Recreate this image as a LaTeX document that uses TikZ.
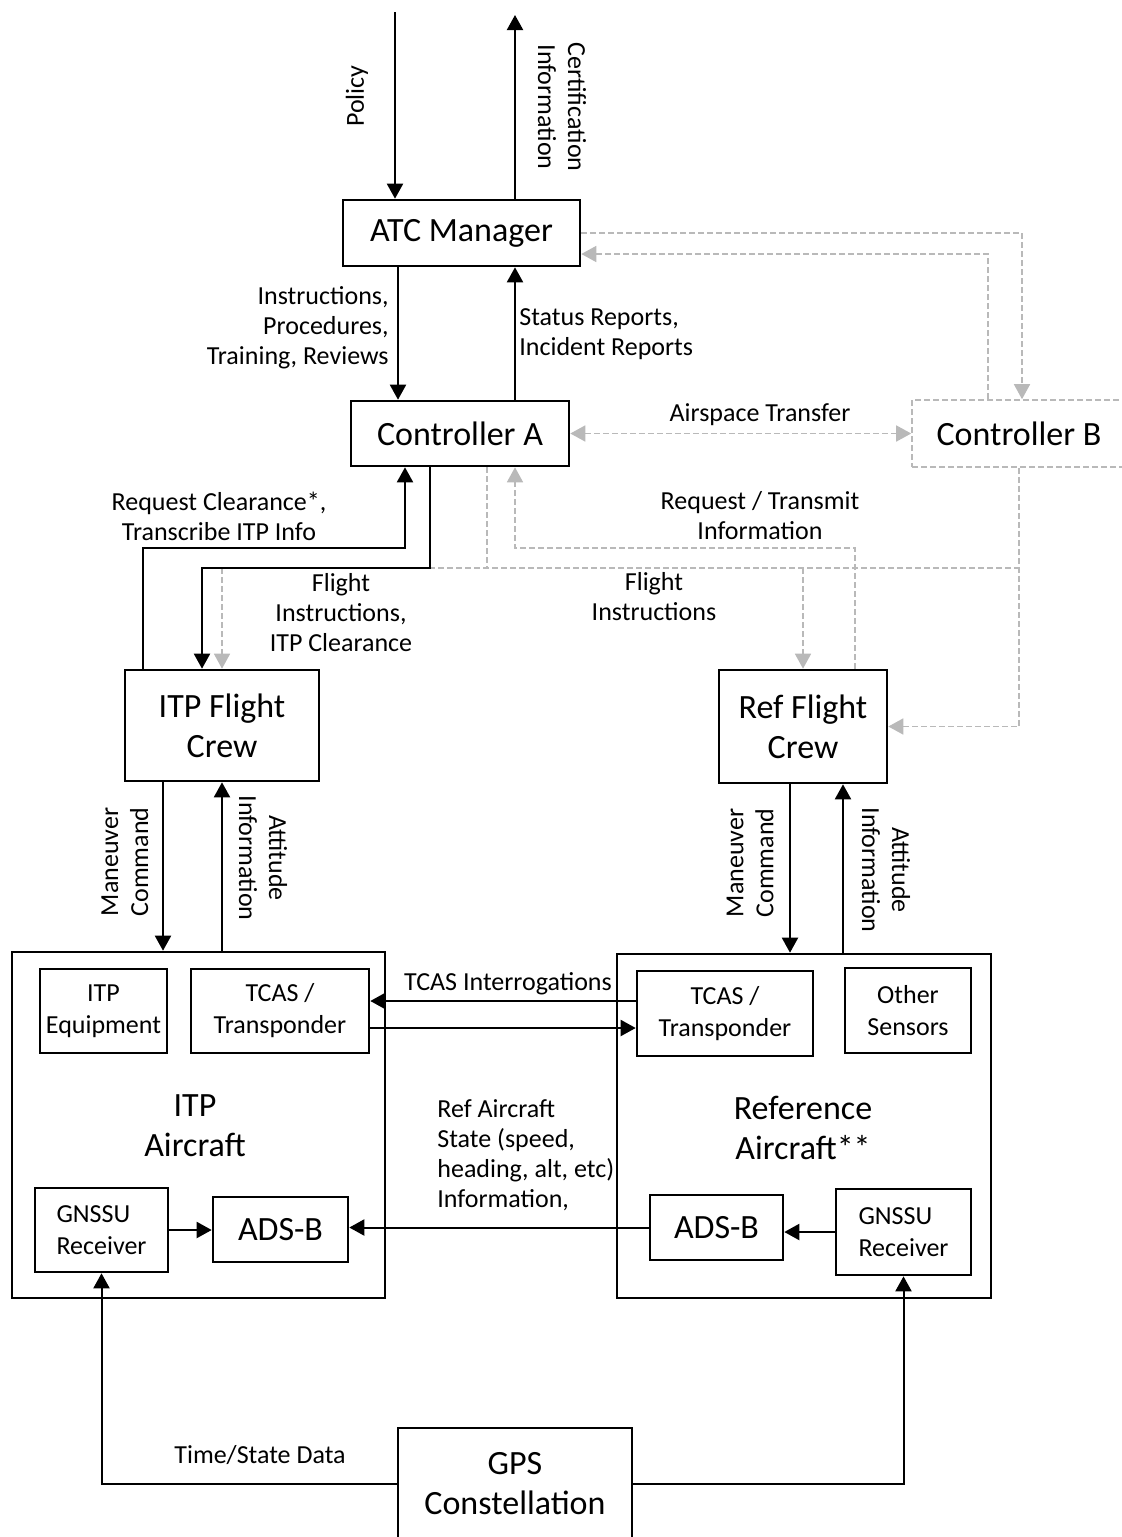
\documentclass[tikz,border=0pt]{standalone}
\usepackage{fontspec}
\setmainfont{Carlito}
\usetikzlibrary{arrows.meta,calc}
\newdimen\upx \upx=0.5pt
\definecolor{lgray}{RGB}{185,185,185}
\begin{document}
\begin{tikzpicture}[x=0.5pt,y=-0.5pt,
  box/.style={draw,line width=1.3pt,inner sep=0pt,align=center},
  big/.style={font=\fontsize{17}{20}\selectfont},
  small/.style={font=\fontsize{13}{16}\selectfont},
  lbl/.style={font=\fontsize{13}{15}\selectfont,inner sep=0pt,align=center},
  tip/.tip={Triangle[length=7.5pt,width=8pt]},
  arr/.style={line width=1pt,-tip},
  bline/.style={line width=1pt},
  gline/.style={draw=lgray,line width=0.8pt,dash pattern=on 3pt off 1.5pt},
  garr/.style={gline,-tip},
  garrs/.style={gline,tip-tip},
]
\useasboundingbox (0,0) rectangle (1122,1537);

% ---- boxes ----
\node[box,big,minimum width=237\upx,minimum height=66\upx] (atc) at (461.5,233) {ATC Manager};
\node[box,big,minimum width=218\upx,minimum height=65\upx] (ctrlA) at (460,433.5) {Controller A};
\node[box,big,draw=lgray,line width=0.8pt,dash pattern=on 3pt off 1.5pt,
      minimum width=214\upx,minimum height=67\upx] (ctrlB) at (1019,433.5) {Controller B};
\node[box,big,minimum width=194\upx,minimum height=111\upx] (itpcrew) at (222,725.5) {ITP Flight\\Crew};
\node[box,big,minimum width=168\upx,minimum height=113\upx] (refcrew) at (803,726.5) {Ref Flight\\Crew};

\node[box,minimum width=373\upx,minimum height=346\upx] (itpac) at (198.5,1125) {};
\node[big,align=center] (itptitle) at (195,1126) {ITP\\Aircraft};
\node[box,small,minimum width=127\upx,minimum height=84\upx] (itpeq) at (103.5,1011) {ITP\\Equipment};
\node[box,small,minimum width=178\upx,minimum height=84\upx] (tcasL) at (280,1011) {TCAS /\\Transponder};
\node[box,small,align=left,minimum width=133\upx,minimum height=84\upx] (gnssL) at (101.5,1230) {GNSSU\\Receiver};
\node[box,big,minimum width=135\upx,minimum height=65\upx] (adsL) at (280.5,1229.5) {ADS-B};

\node[box,minimum width=374\upx,minimum height=344\upx] (refac) at (804,1126) {};
\node[big,align=center] (reftitle) at (803,1128) {Reference\\Aircraft**};
\node[box,small,minimum width=176\upx,minimum height=85\upx] (tcasR) at (725,1013.5) {TCAS /\\Transponder};
\node[box,small,minimum width=126\upx,minimum height=85\upx] (other) at (908,1010.5) {Other\\Sensors};
\node[box,big,minimum width=133\upx,minimum height=65\upx] (adsR) at (716.5,1227.5) {ADS-B};
\node[box,small,align=left,minimum width=135\upx,minimum height=86\upx] (gnssR) at (903.5,1232) {GNSSU\\Receiver};

\node[box,big,minimum width=234\upx,minimum height=112\upx] (gps) at (515,1484) {GPS\\Constellation};

% ---- reference levels ----
\coordinate (policyin) at (395,12);
\coordinate (certout) at (515,15);
\coordinate (colA) at (398,0);
\coordinate (colB) at (515,0);
\coordinate (bus) at (0,568);
\coordinate (req) at (0,548);

% ---- grey (Controller B / shared) links ----
\draw[garr] (atc.east) -| ([xshift=3\upx]ctrlB.north);
\draw[garr] ([xshift=-31\upx]ctrlB.north) |- ([yshift=-21\upx]atc.east);
\draw[garrs] (ctrlA.east) -- (ctrlB.west);
\draw[gline] ([xshift=27\upx]ctrlA.south) -- ([xshift=27\upx]ctrlA.south |- bus);
\draw[gline] (itpcrew.north |- bus) -- (ctrlB.south |- bus);
\draw[garr] (itpcrew.north |- bus) -- (itpcrew.north);
\draw[garr] (refcrew.north |- bus) -- (refcrew.north);
\draw[garr] (ctrlB.south) |- (refcrew.east);
\draw[garr] ([xshift=52\upx]refcrew.north) |- (colB |- req) -- (colB |- ctrlA.south);

% ---- black links ----
\draw[arr] (policyin) -- (policyin |- atc.north);
\draw[arr] (certout |- atc.north) -- (certout);
\draw[arr] (colA |- atc.south) -- (colA |- ctrlA.north);
\draw[arr] (colB |- ctrlA.north) -- (colB |- atc.south);
\draw[arr] ([xshift=-30\upx]ctrlA.south) -- ([xshift=-30\upx]ctrlA.south |- bus)
  -| ([xshift=-20\upx]itpcrew.north);
\draw[arr] ([xshift=-79\upx]itpcrew.north) |- ([xshift=-55\upx]ctrlA.south |- req)
  -- ([xshift=-55\upx]ctrlA.south);

\draw[arr] ([xshift=-59\upx]itpcrew.south) -- ([xshift=-59\upx]itpcrew.south |- itpac.north);
\draw[arr] (itpcrew.south |- itpac.north) -- (itpcrew.south);
\draw[arr] ([xshift=-13\upx]refcrew.south) -- ([xshift=-13\upx]refcrew.south |- refac.north);
\draw[arr] ([xshift=40\upx]refcrew.south |- refac.north) -- ([xshift=40\upx]refcrew.south);

\coordinate (ti) at ([yshift=12.5\upx]tcasR.west);
\coordinate (tr) at ([yshift=-17\upx]tcasL.east);
\draw[arr] (ti) -- (ti -| tcasL.east);
\draw[arr] (tr) -- (tr -| tcasR.west);
\draw[arr] (adsR.west) -- (adsR.west -| adsL.east);
\draw[arr] (gnssL.east) -- (gnssL.east -| adsL.west);
\draw[arr] (gnssR.west) -- (gnssR.west -| adsR.east);
\draw[arr] (gps.west) -| (gnssL.south);
\draw[arr] (gps.east) -| (gnssR.south);

% ---- labels ----
\node[lbl,rotate=90] (lpolicy) at (357,96) {Policy};
\node[lbl,rotate=-90] (lcert) at (562,107) {Certification\\Information};
\node[lbl,align=right,anchor=east] (linstr) at (389,328) {Instructions,\\Procedures,\\Training, Reviews};
\node[lbl,align=left,anchor=west] (lstatus) at (519,334) {Status Reports,\\Incident Reports};
\node[lbl] (lairspace) at (760,415) {Airspace Transfer};
\node[lbl] (lreqclr) at (219,516) {Request Clearance*,\\Transcribe ITP Info};
\node[lbl] (lreqtx) at (760,516) {Request / Transmit\\Information};
\node[lbl] (lfiA) at (341,613) {Flight\\Instructions,\\ITP Clearance};
\node[lbl] (lfiB) at (654,597) {Flight\\Instructions};
\node[lbl,rotate=90] (lmanL) at (125,862) {Maneuver\\Command};
\node[lbl,rotate=-90] (lattL) at (263,858) {Attitude\\Information};
\node[lbl,rotate=90] (lmanR) at (750,863) {Maneuver\\Command};
\node[lbl,rotate=-90] (lattR) at (886,870) {Attitude\\Information};
\node[lbl] (ltcas) at (508,984) {TCAS Interrogations};
\node[lbl,align=left,anchor=west] (lstate) at (437,1155) {Ref Aircraft\\State (speed,\\heading, alt, etc)\\Information,};
\node[lbl] (ltime) at (260,1455) {Time/State Data};
\end{tikzpicture}
\end{document}
